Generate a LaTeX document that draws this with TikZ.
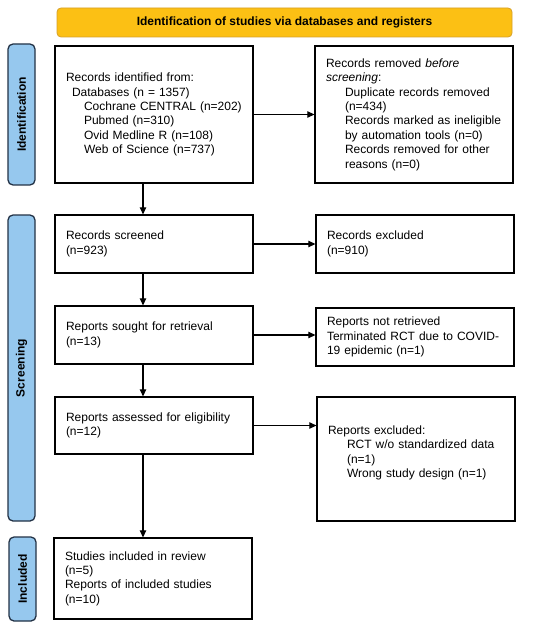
\documentclass[tikz,border=0pt]{standalone}
\usepackage{fontspec}
\setmainfont{Liberation Sans}
\usetikzlibrary{arrows.meta,calc}
\definecolor{bannerfill}{RGB}{252,192,20}
\definecolor{bannerdraw}{RGB}{215,160,40}
\definecolor{sidefill}{RGB}{150,200,238}
\definecolor{sidedraw}{RGB}{35,50,70}
\tikzset{
  box/.style={draw=black, line width=1.3pt, minimum width=198pt, align=left,
    text width=176pt, inner xsep=11pt, inner ysep=0pt,
    font=\fontsize{12}{14.4}\selectfont},
  side/.style={draw=sidedraw, fill=sidefill, line width=1.3pt, rounded corners=5pt,
    minimum width=27pt, inner sep=0pt},
  sidelabel/.style={rotate=90, font=\bfseries\fontsize{12}{14}\selectfont},
  arr/.style={line width=1.2pt, -{Triangle[length=7pt,width=6.5pt]}},
}
\newcommand{\ia}{\hspace*{6pt}}
\newcommand{\ib}{\hspace*{18pt}}
\newcommand{\ic}{\hspace*{19pt}}
\begin{document}
\begin{tikzpicture}[x=1pt,y=-1pt]
\useasboundingbox[fill=white] (0,0) rectangle (550,628);
% banner
\node[draw=bannerdraw, fill=bannerfill, line width=0.8pt, rounded corners=4pt,
  minimum width=455pt, minimum height=29pt, inner sep=0pt,
  font=\bfseries\fontsize{12}{14}\selectfont] (banner) at (284.5,22.5)
  {Identification of studies via databases and registers};
% side bars
\node[side, minimum height=141pt] (sideId) at (21.5,114.5) {};
\node[sidelabel] (sideIdL) at (sideId.center) {Identification};
\node[side, minimum height=306pt] (sideScr) at (21.5,368) {};
\node[sidelabel] (sideScrL) at (sideScr.center) {Screening};
\node[side, minimum height=84pt] (sideInc) at (22.5,579) {};
\node[sidelabel] (sideIncL) at (sideInc.center) {Included};
% left column
\node[box, minimum height=137pt] (b1) at (154,114.5) {Records identified from:\\
\ia Databases (n = 1357)\\
\ib Cochrane CENTRAL (n=202)\\
\ib Pubmed (n=310)\\
\ib Ovid Medline R (n=108)\\
\ib Web of Science (n=737)};
\node[box, minimum height=58pt] (b2) at (154,244) {Records screened\\(n=923)};
\node[box, minimum height=58pt] (b3) at (154,335) {Reports sought for retrieval\\(n=13)};
\node[box, minimum height=57pt] (b4) at (154,425.5) {Reports assessed for eligibility\\(n=12)};
\node[box, minimum height=81pt, inner xsep=10pt] (b5) at (153,578.5) {Studies included in review\\(n=5)\\Reports of included studies\\(n=10)};
% right column
\node[box, minimum height=137pt] (r1) at (414,114.5) {Records removed \textit{before}\\
\textit{screening}:\\
\ic Duplicate records removed\\
\ic (n=434)\\
\ic Records marked as ineligible\\
\ic by automation tools (n=0)\\
\ic Records removed for other\\
\ic reasons (n=0)};
\node[box, minimum height=58pt] (r2) at (415,244) {Records excluded\\(n=910)};
\node[box, minimum height=58pt] (r3) at (415,337) {Reports not retrieved\\Terminated RCT due to COVID-\\19 epidemic (n=1)};
\node[box, minimum height=124pt] (r4) at (416,459) {Reports excluded:\\
\ic RCT w/o standardized data\\
\ic (n=1)\\
\ic Wrong study design (n=1)\\ \mbox{}};
% connectors
\coordinate (xv) at (143,0);
\draw[arr] (b1.south -| xv) -- (b2.north -| xv);
\draw[arr] (b2.south -| xv) -- (b3.north -| xv);
\draw[arr] (b3.south -| xv) -- (b4.north -| xv);
\draw[arr] (b4.south -| xv) -- (b5.north -| xv);
\draw[arr] (b1.east) -- (b1.east -| r1.west);
\draw[arr] (b2.east) -- (b2.east -| r2.west);
\draw[arr] (b3.east) -- (b3.east -| r3.west);
\draw[arr] (b4.east) -- (b4.east -| r4.west);
\end{tikzpicture}
\end{document}
